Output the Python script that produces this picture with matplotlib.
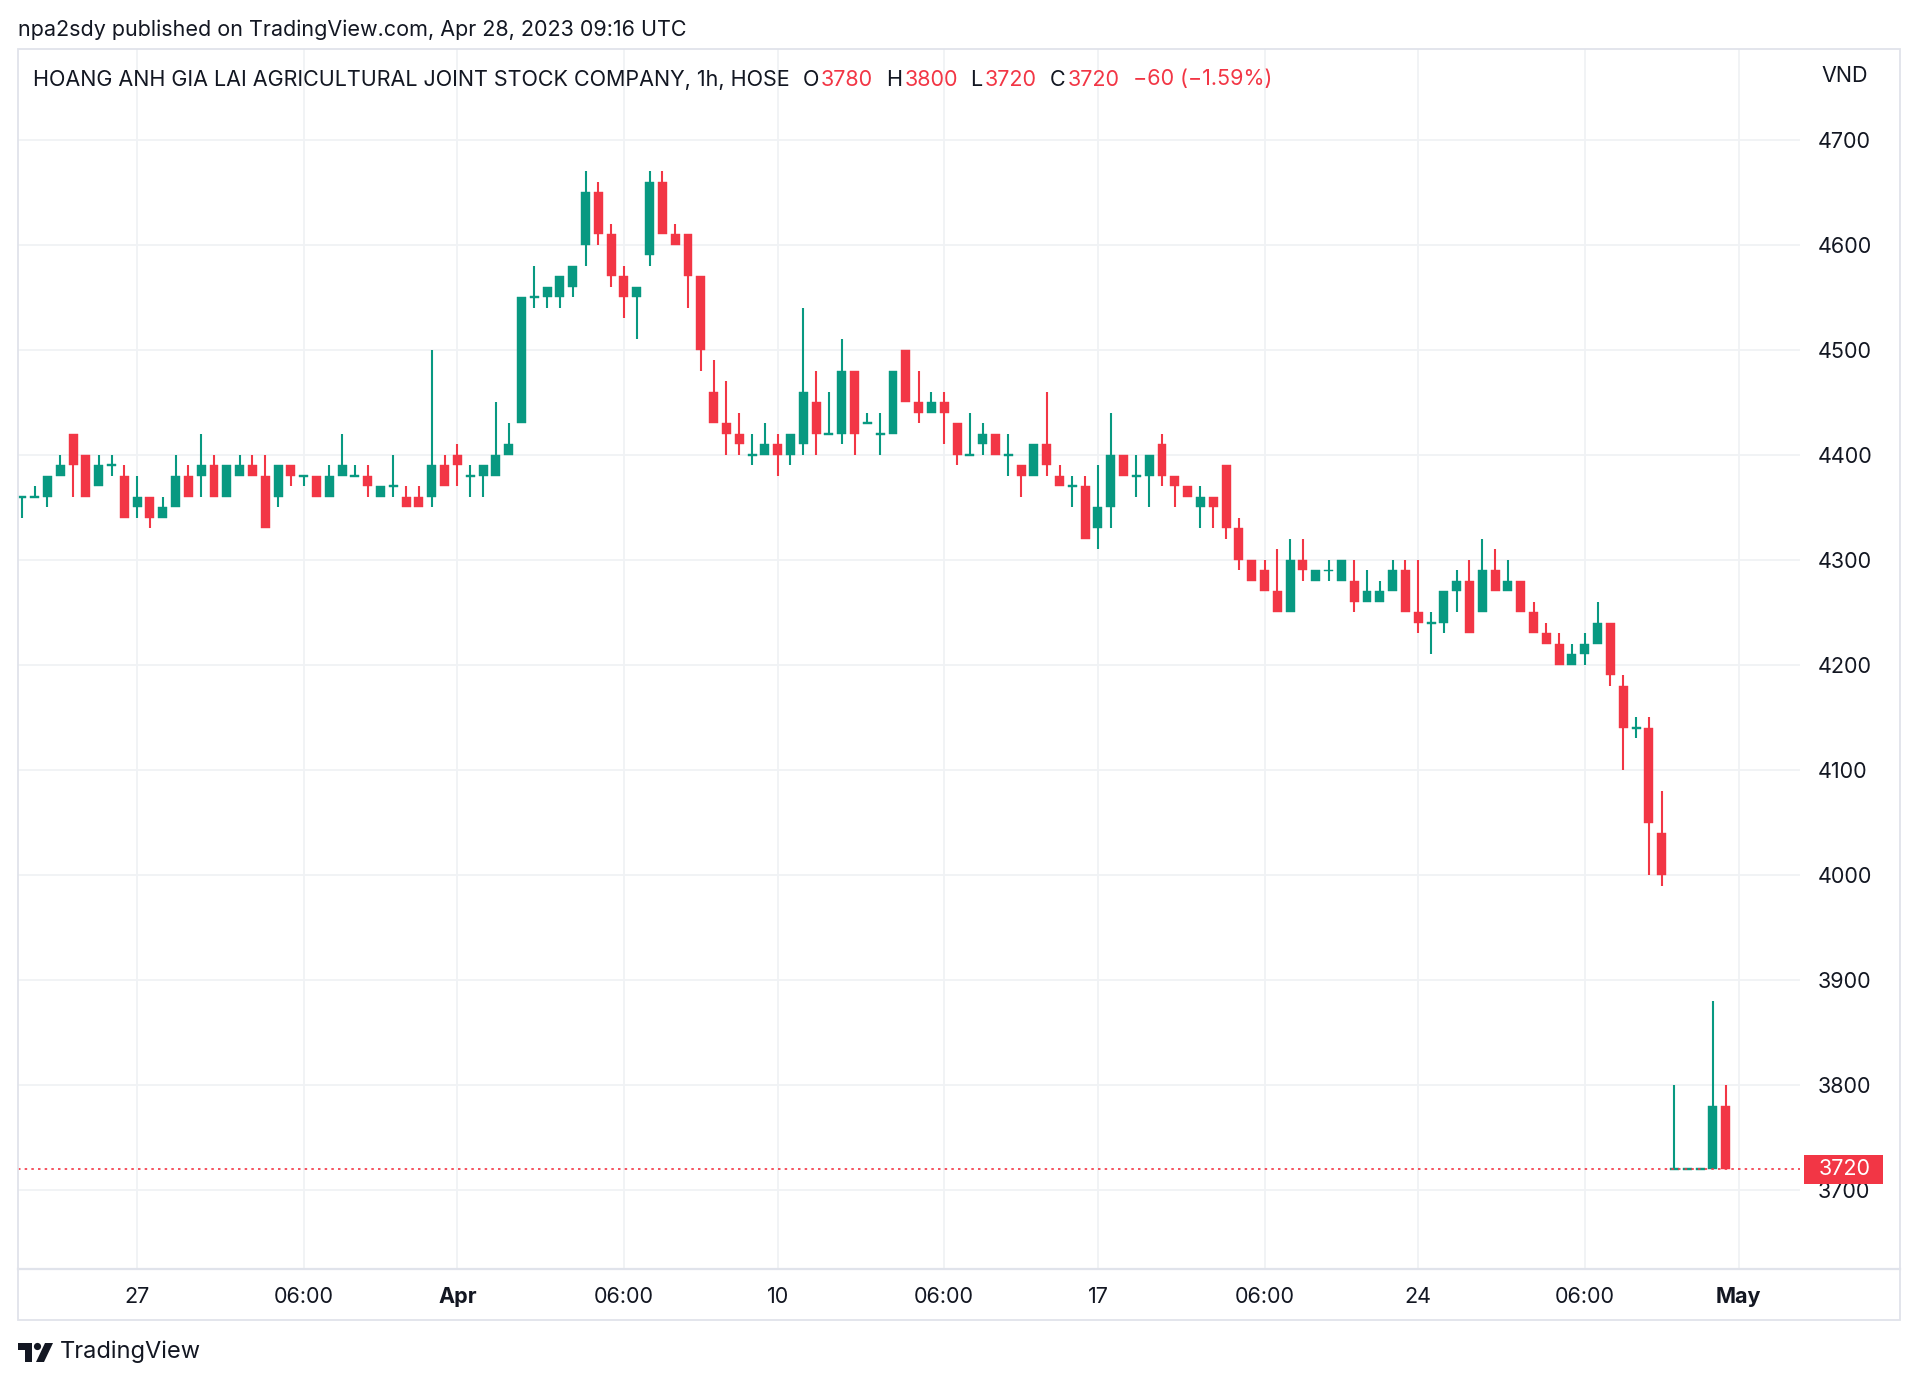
import matplotlib
matplotlib.use('Agg')
import matplotlib.pyplot as plt
from matplotlib.patches import Rectangle, Polygon, Circle
from matplotlib.lines import Line2D
import matplotlib.transforms as mtransforms
import numpy as np

plt.rcParams['font.family'] = ['Inter', 'DejaVu Sans']

# ---------------- data (1h candles, index = bar number) ----------------
opens = [4360, 4360, 4360, 4380, 4420, 4400, 4370, 4390, 4380, 4350,
         4360, 4340, 4350, 4380, 4380, 4390, 4360, 4380, 4390, 4380,
         4360, 4390, 4380, 4380, 4360, 4380, 4380, 4380, 4360, 4370,
         4360, 4360, 4360, 4390, 4400, 4380, 4380, 4380, 4400, 4430,
         4550, 4550, 4550, 4560, 4600, 4650, 4610, 4570, 4550, 4590,
         4660, 4610, 4610, 4570, 4460, 4430, 4420, 4400, 4400, 4410,
         4400, 4410, 4450, 4420, 4420, 4480, 4430, 4420, 4420, 4500,
         4450, 4440, 4450, 4430, 4400, 4410, 4420, 4400, 4390, 4380,
         4410, 4380, 4370, 4370, 4330, 4350, 4400, 4380, 4380, 4410,
         4380, 4370, 4350, 4360, 4390, 4330, 4300, 4290, 4270, 4250,
         4300, 4280, 4290, 4280, 4280, 4260, 4260, 4270, 4290, 4250,
         4240, 4240, 4270, 4280, 4250, 4290, 4270, 4280, 4250, 4230,
         4220, 4200, 4210, 4220, 4240, 4180, 4140, 4140, 4040, 3720,
         3720, 3720, 3720, 3780]
highs = [4360, 4370, 4380, 4400, 4420, 4400, 4400, 4400, 4390, 4380,
         4360, 4360, 4400, 4390, 4420, 4400, 4390, 4400, 4400, 4400,
         4390, 4390, 4380, 4380, 4390, 4420, 4390, 4390, 4370, 4400,
         4370, 4370, 4500, 4400, 4410, 4390, 4390, 4450, 4430, 4550,
         4580, 4560, 4570, 4580, 4670, 4660, 4620, 4580, 4560, 4670,
         4670, 4620, 4610, 4570, 4490, 4470, 4440, 4420, 4430, 4420,
         4420, 4540, 4480, 4460, 4510, 4480, 4440, 4440, 4480, 4500,
         4480, 4460, 4460, 4430, 4440, 4430, 4420, 4420, 4390, 4410,
         4460, 4390, 4380, 4380, 4390, 4440, 4400, 4400, 4400, 4420,
         4380, 4370, 4370, 4360, 4390, 4340, 4300, 4300, 4310, 4320,
         4320, 4290, 4300, 4300, 4300, 4290, 4280, 4300, 4300, 4300,
         4250, 4270, 4290, 4300, 4320, 4310, 4300, 4280, 4260, 4240,
         4230, 4220, 4230, 4260, 4240, 4190, 4150, 4150, 4080, 3800,
         3720, 3720, 3880, 3800]
lows = [4340, 4360, 4350, 4380, 4360, 4360, 4370, 4380, 4340, 4340,
        4330, 4340, 4350, 4360, 4360, 4360, 4360, 4380, 4380, 4330,
        4350, 4370, 4370, 4360, 4360, 4380, 4380, 4360, 4360, 4360,
        4350, 4350, 4350, 4370, 4370, 4360, 4360, 4380, 4400, 4430,
        4540, 4540, 4540, 4550, 4580, 4600, 4560, 4530, 4510, 4580,
        4610, 4600, 4540, 4480, 4430, 4400, 4400, 4390, 4400, 4380,
        4390, 4400, 4400, 4420, 4410, 4400, 4430, 4400, 4420, 4450,
        4430, 4440, 4410, 4390, 4400, 4400, 4400, 4380, 4360, 4380,
        4380, 4370, 4350, 4320, 4310, 4330, 4380, 4360, 4350, 4370,
        4350, 4360, 4330, 4330, 4320, 4290, 4280, 4270, 4250, 4250,
        4280, 4280, 4280, 4280, 4250, 4260, 4260, 4270, 4250, 4230,
        4210, 4230, 4250, 4230, 4250, 4270, 4270, 4250, 4230, 4220,
        4200, 4200, 4200, 4220, 4180, 4100, 4130, 4000, 3990, 3720,
        3720, 3720, 3720, 3720]
closes = [4360, 4360, 4380, 4390, 4390, 4360, 4390, 4390, 4340, 4360,
          4340, 4350, 4380, 4360, 4390, 4360, 4390, 4390, 4380, 4330,
          4390, 4380, 4380, 4360, 4380, 4390, 4380, 4370, 4370, 4370,
          4350, 4350, 4390, 4370, 4390, 4380, 4390, 4400, 4410, 4550,
          4550, 4560, 4570, 4580, 4650, 4610, 4570, 4550, 4560, 4660,
          4610, 4600, 4570, 4500, 4430, 4420, 4410, 4400, 4410, 4400,
          4420, 4460, 4420, 4420, 4480, 4420, 4430, 4420, 4480, 4450,
          4440, 4450, 4440, 4400, 4400, 4420, 4400, 4400, 4380, 4410,
          4390, 4370, 4370, 4320, 4350, 4400, 4380, 4380, 4400, 4380,
          4370, 4360, 4360, 4350, 4330, 4300, 4280, 4270, 4250, 4300,
          4290, 4290, 4290, 4300, 4260, 4270, 4270, 4290, 4250, 4240,
          4240, 4270, 4280, 4230, 4290, 4270, 4280, 4250, 4230, 4220,
          4200, 4210, 4220, 4240, 4190, 4140, 4140, 4050, 4000, 3720,
          3720, 3720, 3780, 3720]

time_tick_pos = [9, 22, 34, 47, 59, 72, 84, 97, 109, 122, 134]
time_tick_labels = ['27', '06:00', 'Apr', '06:00', '10', '06:00', '17',
                    '06:00', '24', '06:00', 'May']
bold_labels = ['Apr', 'May']
price_ticks = [3700, 3800, 3900, 4000, 4100, 4200, 4300, 4400, 4500, 4600, 4700]

symbol_title = "HOANG ANH GIA LAI AGRICULTURAL JOINT STOCK COMPANY, 1h, HOSE"
published = "npa2sdy published on TradingView.com, Apr 28, 2023 09:16 UTC"
currency = "VND"

# ---------------- style ----------------
GREEN = '#089981'
RED = '#F23645'
TEXT = '#131722'
GRID = '#F0F2F5'
BORDER = '#E0E3EB'
FS = 15.5

W, H = 1920, 1384
fig = plt.figure(figsize=(W / 100, H / 100), dpi=100)
fig.patch.set_facecolor('white')

def fx(px):
    return px / W

def fy(py):
    return 1 - py / H

# pixel transform (y downwards) for decorations
pix = mtransforms.Affine2D().scale(1 / W, -1 / H).translate(0, 1) + fig.transFigure

ax = fig.add_axes([fx(18), fy(1268), fx(1800) - fx(18), fy(49) - fy(1268)])
ax.set_xlim(-0.3, 138.8)
ax.set_ylim(3626.0, 4786.2)
for s in ax.spines.values():
    s.set_visible(False)

o = np.array(opens, dtype=float)
h = np.array(highs, dtype=float)
l = np.array(lows, dtype=float)
c = np.array(closes, dtype=float)
idx = np.arange(len(o))
up = c >= o
cols = np.where(up, GREEN, RED)

ax.set_axisbelow(True)
ax.vlines(idx, l, h, colors=cols, linewidth=1.5, zorder=2)
body_bottom = np.minimum(o, c)
body_h = np.maximum(np.abs(c - o), 1.6)
body_bottom = np.where(np.abs(c - o) < 1, o - 0.8, body_bottom)
ax.bar(idx, body_h, bottom=body_bottom, width=0.7, color=cols,
       edgecolor=cols, linewidth=0.3, zorder=3)

# grid and ticks
ax.set_xticks(time_tick_pos)
ax.set_xticklabels(time_tick_labels)
for lbl in ax.get_xticklabels():
    if lbl.get_text() in bold_labels:
        lbl.set_fontweight('bold')
ax.set_yticks(price_ticks)
ax.set_yticklabels([str(p) for p in price_ticks])
ax.yaxis.tick_right()
ax.tick_params(axis='both', length=0, labelsize=FS, colors=TEXT)
ax.tick_params(axis='y', pad=13)
ax.tick_params(axis='x', pad=14)
ax.grid(True, color=GRID, linewidth=1.3)

# last price line and tag
last = closes[-1]
ax.axhline(last, color=RED, linestyle=(0, (1.5, 2.5)), linewidth=1.2, zorder=4)
tag_tr = mtransforms.blended_transform_factory(ax.transAxes, ax.transData)
ax.add_patch(Rectangle((1.0022, last - 13.8), 0.0444, 27.6, transform=tag_tr,
                       facecolor=RED, edgecolor='none', clip_on=False, zorder=5))
ax.text(1.0250, last, str(last), transform=tag_tr, ha='center', va='center',
        color='white', fontsize=FS, clip_on=False, zorder=6)

# frame
fig.add_artist(Rectangle((18, 49), 1882, 1271, transform=pix, fill=False,
                         edgecolor=BORDER, linewidth=1.3))
fig.add_artist(Line2D([18, 1900], [1269, 1269], transform=pix, color=BORDER,
                      linewidth=1.6))

# texts
fig.text(fx(18), fy(30), published, ha='left', va='center', fontsize=FS, color=TEXT)
fig.text(fx(1845), fy(75.5), currency, ha='center', va='center', fontsize=FS, color=TEXT)

change = closes[-1] - closes[-2]
pct = change / closes[-2] * 100
pieces = [(symbol_title, TEXT),
          ("  O", TEXT), (str(opens[-1]), RED),
          ("  H", TEXT), (str(highs[-1]), RED),
          ("  L", TEXT), (str(lows[-1]), RED),
          ("  C", TEXT), (str(closes[-1]), RED),
          ("  \u2212%d (\u2212%.2f%%)" % (abs(change), abs(pct)), RED)]
prev = fig.text(fx(33), fy(79.5), pieces[0][0], ha='left', va='center',
                fontsize=FS, color=pieces[0][1])
for txt, col in pieces[1:]:
    prev = ax.annotate(txt, xy=(1, 0.5), xycoords=prev, xytext=(1.1, 0),
                       textcoords='offset points', ha='left', va='center',
                       fontsize=FS, color=col, annotation_clip=False)

# TradingView logo
fig.add_artist(Polygon([(18, 1343), (32, 1343), (32, 1362), (25, 1362),
                        (25, 1350), (18, 1350)], closed=True, transform=pix,
                       facecolor=TEXT, edgecolor='none'))
fig.add_artist(Circle((37.5, 1346.5), 3.6, transform=pix, facecolor=TEXT,
                      edgecolor='none'))
fig.add_artist(Polygon([(45, 1343), (53, 1343), (44, 1362), (36, 1362)],
                       closed=True, transform=pix, facecolor=TEXT, edgecolor='none'))
fig.text(fx(60), fy(1352), "TradingView", ha='left', va='center', fontsize=17,
         color=TEXT)

fig.savefig('out.png', dpi=100, facecolor='white')
